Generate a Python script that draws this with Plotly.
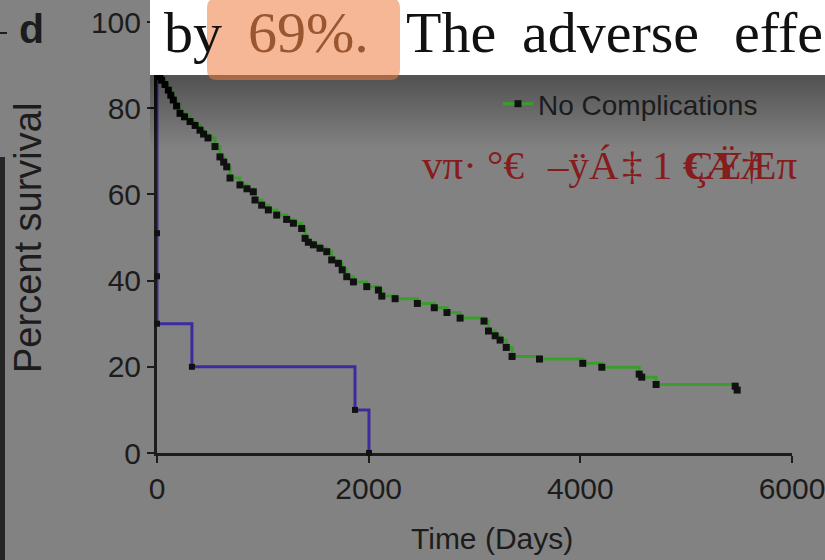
import plotly.graph_objects as go

# Kaplan-Meier survival, patients without complications (days, percent)
no_comp_days = [0, 5, 10, 15, 20, 28, 44, 75, 107, 130, 154, 185, 217, 260, 312,
                360, 406, 440, 482, 548, 595, 630, 659, 690, 784, 850, 910, 926, 989, 1052,
                1131, 1225, 1289, 1367, 1399, 1430, 1478, 1540, 1604, 1651, 1714, 1750, 1793, 1856, 1982,
                2092, 2124, 2250, 2460, 2620, 2740, 2864, 3090, 3132, 3195, 3242, 3300, 3355, 3614, 4023,
                4203, 4556, 4580, 4716, 5463, 5482]
no_comp_surv = [100, 97.5, 95, 92.5, 90, 87.4, 86.5, 85.5, 84.2, 83, 81.9, 80.5, 78.8, 78, 76.9,
                76, 74.9, 74, 73.1, 71.1, 68.7, 67.5, 66.4, 63.8, 62.2, 61.3, 60.6, 58.7, 57.5, 56.4,
                55.2, 54.2, 53.3, 52.1, 49.8, 48.9, 48.3, 47.5, 46.7, 44.8, 44, 42.5, 40.9, 39.7, 38.6,
                37.8, 36.4, 35.8, 34.7, 33.7, 32.6, 31.3, 30.6, 28.3, 27.2, 26.2, 24.5, 22.4, 21.8, 20.8,
                19.9, 18.3, 17.6, 15.9, 15.5, 14.6]

# Kaplan-Meier survival, patients with complications
comp_days = [0, 0, 0, 0, 330, 1871, 2003]
comp_surv = [100, 51, 41, 30, 20, 10, 0]

x_ticks = [0, 2000, 4000, 6000]
y_ticks = [0, 20, 40, 60, 80, 100]

W, H = 825, 560
L, R, T, B = 157, 33, 22, 107
PW, PH = W - L - R, H - T - B


def px(x):
    return (x - L) / PW


def py(y):
    return (H - B - y) / PH


BG = "#828282"
INK = "#1c1c1c"
SANS = "Liberation Sans, Arial, sans-serif"
SERIF = "Liberation Serif, Times New Roman, serif"

fig = go.Figure()

fig.add_trace(go.Scatter(
    x=comp_days, y=comp_surv, mode="lines+markers", name="Complications",
    line=dict(color="#3a2c9e", width=3, shape="hv"),
    marker=dict(symbol="square", size=6, color="#111111"),
    cliponaxis=False, showlegend=False,
))
fig.add_trace(go.Scatter(
    x=no_comp_days, y=no_comp_surv, mode="lines+markers", name="No Complications",
    line=dict(color="#3a9e2c", width=3, shape="hv"),
    marker=dict(symbol="square", size=7, color="#111111"),
    cliponaxis=False,
))

axis_common = dict(
    showgrid=False, zeroline=False, showline=True, linecolor=INK, linewidth=3,
    ticks="outside", tickcolor=INK, tickwidth=2, ticklen=7, automargin=False,
    ticklabeloverflow="allow",
    tickfont=dict(family=SANS, size=30, color=INK), layer="below traces",
)
fig.update_xaxes(range=[0, 6000], tickvals=x_ticks, ticktext=[str(v) for v in x_ticks], **axis_common)
fig.update_yaxes(range=[0, 100], tickvals=y_ticks, ticktext=[str(v) for v in y_ticks], **axis_common)

shapes = []
# soft shadow under the text strip
for i in range(24):
    shapes.append(dict(type="rect", xref="paper", yref="paper",
                       x0=px(150), x1=px(827), y0=py(75 + 3 * (i + 1)), y1=py(75),
                       fillcolor="black", opacity=0.011, line=dict(width=0), layer="above"))
# white text strip across the top
shapes.append(dict(type="rect", xref="paper", yref="paper",
                   x0=px(150), x1=px(827), y0=py(75), y1=py(-2),
                   fillcolor="white", line=dict(width=0), layer="above"))
# rounded highlight box
x0, x1, y0, y1, r = 207, 400, -2, 80, 10
path = (f"M{px(x0 + r)},{py(y0)} L{px(x1 - r)},{py(y0)} "
        f"Q{px(x1)},{py(y0)} {px(x1)},{py(y0 + r)} L{px(x1)},{py(y1 - r)} "
        f"Q{px(x1)},{py(y1)} {px(x1 - r)},{py(y1)} L{px(x0 + r)},{py(y1)} "
        f"Q{px(x0)},{py(y1)} {px(x0)},{py(y1 - r)} L{px(x0)},{py(y0 + r)} "
        f"Q{px(x0)},{py(y0)} {px(x0 + r)},{py(y0)} Z")
shapes.append(dict(type="path", xref="paper", yref="paper", path=path,
                   fillcolor="rgba(236,124,62,0.55)", line=dict(width=0), layer="above"))
# dark strip on the left edge
shapes.append(dict(type="rect", xref="paper", yref="paper",
                   x0=px(-2), x1=px(5), y0=py(565), y1=py(157),
                   fillcolor="#262626", line=dict(width=0), layer="above"))
# small dash at the top-left
shapes.append(dict(type="line", xref="paper", yref="paper",
                   x0=px(0), x1=px(7), y0=py(33), y1=py(33),
                   line=dict(color=INK, width=2), layer="above"))

annotations = []


def note(text, x, y, size, color=INK, family=SANS, xanchor="left", yanchor="middle", angle=0):
    annotations.append(dict(text=text, x=px(x), y=py(y), xref="paper", yref="paper",
                            xanchor=xanchor, yanchor=yanchor, showarrow=False, textangle=angle,
                            font=dict(family=family, size=size, color=color)))


note("Time (Days)", 492, 538, 30, xanchor="center")
note("Percent survival", 28, 238, 38, xanchor="center", angle=-90)
note("<b>d</b>", 17, 29, 41)

# justified body text in the top strip
for word, xl in [("by", 162), ("The", 404), ("adverse", 520), ("effe", 732)]:
    note(word, xl, 33, 58, color="#111111", family=SERIF)
note("69%.", 246, 33, 58, color="#9a5630", family=SERIF)

# overprinted red glyphs
RED = "#861c1c"
for glyphs, xl in [("vπ· °€", 420), ("–ÿÁ", 545), ("‡", 620), ("1 €", 650),
                   ("ÇŸ", 684), ("Æ†", 703), ("Æπ", 738)]:
    note(glyphs, xl, 165, 41, color=RED, family=SERIF)

fig.update_layout(
    width=W, height=H, margin=dict(l=L, r=R, t=T, b=B, autoexpand=False),
    paper_bgcolor=BG, plot_bgcolor=BG,
    shapes=shapes, annotations=annotations,
    legend=dict(x=px(498), y=py(104), xanchor="left", yanchor="middle",
                bgcolor="rgba(0,0,0,0)", font=dict(family=SANS, size=28, color=INK)),
)

fig.write_html("out.html")
